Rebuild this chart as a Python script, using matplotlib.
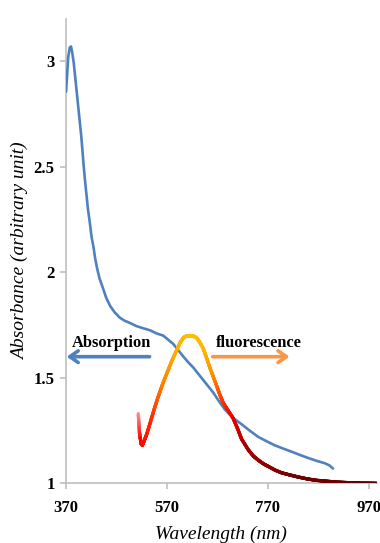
import numpy as np
import matplotlib
matplotlib.use("Agg")
import matplotlib.pyplot as plt
from matplotlib.collections import LineCollection
from matplotlib.colors import LinearSegmentedColormap

# absorption spectrum
abs_wl = [370.6, 373, 375, 378, 380.5, 383, 386, 389, 392, 395, 398, 401, 405, 408, 411,
          414, 418, 421, 425, 428, 432, 437, 443, 450, 458, 467, 477, 487, 497, 510,
          523, 537, 550, 563, 573, 583, 593, 603, 612, 622, 632, 642, 652, 662, 673,
          685, 701, 718, 734, 751, 767, 784, 800, 817, 833, 850, 866, 883, 892, 899]
abs_val = [2.855, 2.94, 3.02, 3.065, 3.07, 3.04, 2.99, 2.92, 2.85, 2.78, 2.71, 2.64, 2.52, 2.44, 2.37,
           2.30, 2.23, 2.17, 2.12, 2.07, 2.02, 1.97, 1.93, 1.88, 1.84, 1.81, 1.785, 1.77, 1.76, 1.745,
           1.735, 1.725, 1.71, 1.70, 1.68, 1.66, 1.63, 1.60, 1.575, 1.55, 1.52, 1.49, 1.46, 1.43, 1.39,
           1.35, 1.31, 1.28, 1.25, 1.22, 1.20, 1.18, 1.165, 1.15, 1.135, 1.12, 1.107, 1.095, 1.085, 1.07]

# fluorescence spectrum
fl_wl = [513.6, 516, 519, 521.5, 525, 530, 537, 545, 553, 561, 570, 580, 589.5, 596, 603,
         609, 616, 622, 629, 635, 642, 648, 655, 662, 669, 675, 682, 690, 701, 710,
         718, 731, 741, 751, 761, 771, 784, 797, 813, 830, 846, 863, 880, 896, 930,
         960, 986]
fl_val = [1.33, 1.24, 1.19, 1.18, 1.20, 1.23, 1.285, 1.35, 1.41, 1.465, 1.52, 1.58, 1.63, 1.665, 1.69,
          1.698, 1.70, 1.698, 1.69, 1.67, 1.64, 1.60, 1.55, 1.505, 1.46, 1.42, 1.38, 1.35, 1.31, 1.26,
          1.21, 1.16, 1.13, 1.11, 1.093, 1.08, 1.063, 1.05, 1.04, 1.03, 1.022, 1.015, 1.011, 1.008, 1.003,
          1.001, 1.0]

xticks = [370, 570, 770, 970]
yticks = [1, 1.5, 2, 2.5, 3]
serif = "Liberation Serif"

fig = plt.figure(figsize=(3.8, 5.43), dpi=100)
ax = fig.add_axes([0.1729, 0.1099, 0.8191, 0.8551])
ax.set_xlim(370, 986)
ax.set_ylim(1, 3.2)

ax.plot(abs_wl, abs_val, color="#4f81bd", linewidth=1.9, solid_capstyle="round",
        solid_joinstyle="round", zorder=3)

# fluorescence drawn with a colour gradient along the curve (by arc length)
fx = np.array(fl_wl, dtype=float)
fy = np.array(fl_val, dtype=float)
t = np.linspace(0, len(fx) - 1, 1000)
xs = np.interp(t, np.arange(len(fx)), fx)
ys = np.interp(t, np.arange(len(fy)), fy)
disp = ax.transData.transform(np.column_stack([xs, ys]))
arc = np.concatenate([[0], np.cumsum(np.hypot(*np.diff(disp, axis=0).T))])
arc = arc / arc[-1]
pts = np.column_stack([xs, ys]).reshape(-1, 1, 2)
segs = np.concatenate([pts[:-1], pts[1:]], axis=1)
cmap = LinearSegmentedColormap.from_list(
    "fl",
    [(0.0, "#ff9090"), (0.06, "#ff0000"), (0.15, "#ff3000"), (0.23, "#ff8000"),
     (0.30, "#ffa800"), (0.37, "#ffc000"), (0.42, "#ffb400"), (0.48, "#ff9000"),
     (0.54, "#ff4000"), (0.59, "#f00000"), (0.66, "#b00000"), (0.78, "#7a0000"),
     (1.0, "#5c0000")])
lc = LineCollection(segs, cmap=cmap, linewidth=2.4, capstyle="round", zorder=4)
lc.set_array((arc[:-1] + arc[1:]) / 2)
ax.add_collection(lc)

# arrows and labels
ax.annotate("", xy=(372, 1.60), xytext=(536, 1.60),
            arrowprops=dict(arrowstyle="->,head_length=0.5,head_width=0.35",
                            color="#4f81bd", lw=2.6, mutation_scale=12,
                            shrinkA=0, shrinkB=0))
ax.annotate("", xy=(813, 1.60), xytext=(661, 1.60),
            arrowprops=dict(arrowstyle="->,head_length=0.5,head_width=0.35",
                            color="#f79646", lw=2.6, mutation_scale=12,
                            shrinkA=0, shrinkB=0))
ax.text(461, 1.665, "Absorption", ha="center", va="center", fontsize=11.8,
        fontweight="bold", family=serif)
ax.text(752, 1.665, "fluorescence", ha="center", va="center", fontsize=11.8,
        fontweight="bold", family=serif)

ax.set_xticks(xticks)
ax.set_xticklabels([str(v) for v in xticks])
ax.set_yticks(yticks)
ax.set_yticklabels(["1", "1.5", "2", "2.5", "3"])
for lab in ax.get_xticklabels() + ax.get_yticklabels():
    lab.set_family(serif)
    lab.set_fontweight("bold")
    lab.set_fontsize(12)

ax.spines["top"].set_visible(False)
ax.spines["right"].set_visible(False)
for side in ["left", "bottom"]:
    ax.spines[side].set_color("#bfbfbf")
    ax.spines[side].set_linewidth(1.2)
ax.tick_params(axis="both", color="#bfbfbf", length=4, width=1.2, direction="out")
ax.tick_params(axis="x", pad=8)
ax.tick_params(axis="y", pad=4)

ax.set_xlabel("Wavelength (nm)", fontsize=14, style="italic", family=serif, labelpad=7)
ax.set_ylabel("Absorbance (arbitrary unit)", fontsize=14, style="italic",
              family=serif, labelpad=3)

fig.savefig("out.png", dpi=100)
